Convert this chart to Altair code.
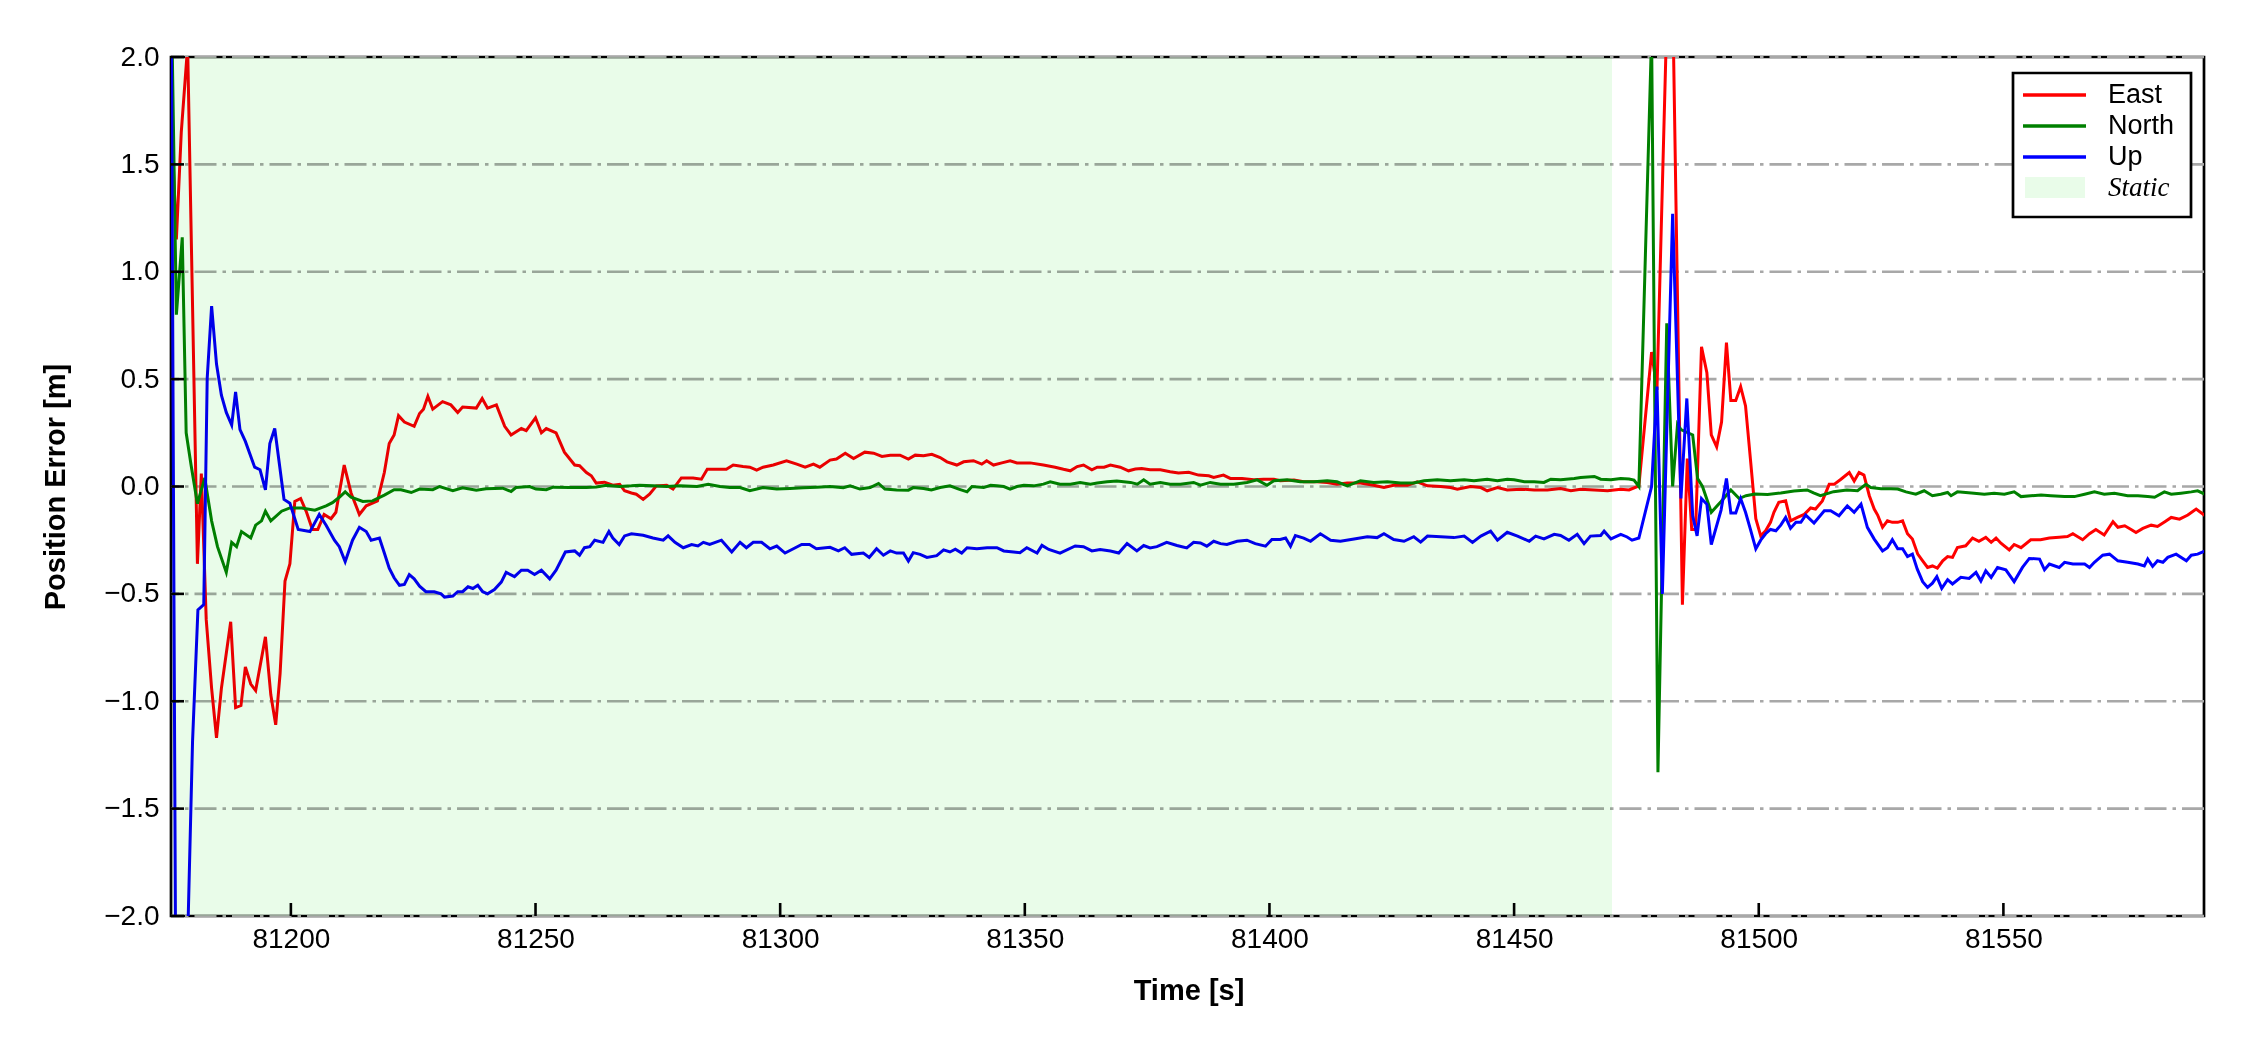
import altair as alt
import pandas as pd

# ---------------- data ----------------
east_t = [81175.6, 81176.6, 81177.6, 81178.9, 81180.9, 81181.7, 81182.7, 81183.8, 81184.8, 81185.8,
          81187.7, 81188.7, 81189.8, 81190.7, 81191.8, 81192.8, 81194.8, 81195.9, 81196.9, 81197.8,
          81198.8, 81199.8, 81200.8, 81202.0, 81203.2, 81204.4, 81205.5, 81206.8, 81208.2, 81209.2,
          81210.9, 81212.3, 81214.0, 81215.4, 81217.7, 81219.1, 81220.1, 81221.1, 81222.0, 81223.2,
          81225.2, 81226.3, 81227.1, 81228.0, 81229.0, 81231.0, 81232.7, 81234.1, 81235.1, 81237.9,
          81239.1, 81240.2, 81242.0, 81243.7, 81245.0, 81247.1, 81248.1, 81250.0, 81251.2, 81252.2,
          81254.2, 81255.9, 81258.0, 81259.0, 81260.4, 81261.4, 81262.4, 81264.1, 81265.8, 81267.2,
          81268.2, 81269.6, 81270.6, 81272.0, 81273.3, 81274.7, 81276.8, 81278.1, 81279.8, 81282.2,
          81283.9, 81285.1, 81287.0, 81289.0, 81290.4, 81292.4, 81293.8, 81295.2, 81296.5, 81298.6,
          81301.3, 81303.4, 81305.1, 81306.8, 81308.1, 81310.2, 81311.5, 81313.3, 81315.0, 81317.3,
          81319.1, 81320.8, 81322.5, 81324.5, 81326.2, 81327.6, 81329.3, 81331.0, 81332.7, 81334.1,
          81336.1, 81337.5, 81339.5, 81341.2, 81342.2, 81343.6, 81345.3, 81347.0, 81348.4, 81351.1,
          81353.8, 81356.2, 81357.9, 81359.3, 81360.7, 81362.0, 81363.7, 81364.8, 81366.2, 81367.5,
          81369.5, 81371.2, 81372.6, 81373.9, 81375.6, 81377.7, 81379.7, 81381.4, 81383.5, 81385.5,
          81387.6, 81388.6, 81390.6, 81392.0, 81394.4, 81396.8, 81398.8, 81400.9, 81402.2, 81405.0,
          81407.0, 81409.7, 81411.8, 81413.8, 81415.9, 81418.6, 81421.3, 81423.4, 81425.4, 81428.2,
          81430.2, 81432.3, 81435.0, 81437.0, 81438.4, 81441.1, 81443.2, 81444.5, 81446.6, 81448.6,
          81451.4, 81454.1, 81456.8, 81459.5, 81461.6, 81463.6, 81466.4, 81469.1, 81471.8, 81473.5,
          81475.5, 81478.1, 81479.2, 81482.0, 81484.4, 81485.4, 81486.3, 81487.1, 81488.3, 81489.4,
          81490.3, 81491.4, 81492.4, 81493.4, 81494.3, 81495.3, 81496.3, 81497.3, 81498.3, 81499.4,
          81500.4, 81501.4, 81502.4, 81503.1, 81504.1, 81505.5, 81506.5, 81507.9, 81509.3, 81510.6,
          81511.6, 81513.0, 81514.4, 81515.4, 81516.8, 81518.5, 81519.5, 81520.5, 81521.5, 81522.6,
          81523.6, 81524.3, 81525.3, 81526.3, 81527.3, 81528.4, 81529.4, 81530.4, 81531.4, 81532.5,
          81533.5, 81534.5, 81535.5, 81536.5, 81537.6, 81538.6, 81539.6, 81540.6, 81542.3, 81543.7,
          81545.0, 81546.4, 81547.5, 81548.5, 81549.5, 81551.2, 81552.2, 81553.6, 81555.6, 81557.6,
          81559.4, 81561.4, 81563.1, 81564.2, 81566.2, 81567.6, 81568.9, 81570.6, 81572.4, 81573.4,
          81574.8, 81576.1, 81577.1, 81578.5, 81580.2, 81581.5, 81583.0, 81584.3, 81586.0, 81587.7,
          81589.4, 81591.2]
east_v = [1.70, 1.15, 1.65, 2.05, -0.36, 0.06, -0.62, -0.94, -1.17, -0.94,
          -0.63, -1.03, -1.02, -0.84, -0.92, -0.95, -0.70, -0.97, -1.11, -0.87,
          -0.44, -0.36, -0.07, -0.056, -0.12, -0.20, -0.20, -0.13, -0.15, -0.12,
          0.10, -0.03, -0.13, -0.09, -0.067, 0.065, 0.20, 0.24, 0.33, 0.30,
          0.28, 0.34, 0.36, 0.42, 0.36, 0.395, 0.38, 0.345, 0.37, 0.365,
          0.41, 0.365, 0.38, 0.28, 0.24, 0.27, 0.26, 0.32, 0.25, 0.27,
          0.25, 0.16, 0.10, 0.097, 0.065, 0.05, 0.016, 0.02, 0.006, 0.01,
          -0.02, -0.03, -0.036, -0.06, -0.036, 0.003, 0.006, -0.012, 0.04, 0.04,
          0.034, 0.08, 0.08, 0.08, 0.10, 0.093, 0.09, 0.076, 0.09, 0.10,
          0.12, 0.104, 0.09, 0.104, 0.09, 0.123, 0.128, 0.155, 0.13, 0.16,
          0.155, 0.14, 0.146, 0.146, 0.128, 0.146, 0.143, 0.15, 0.135, 0.115,
          0.10, 0.115, 0.12, 0.104, 0.12, 0.10, 0.11, 0.12, 0.11, 0.11,
          0.10, 0.09, 0.08, 0.073, 0.093, 0.10, 0.078, 0.09, 0.09, 0.10,
          0.09, 0.073, 0.081, 0.084, 0.078, 0.078, 0.069, 0.0625, 0.066, 0.053,
          0.05, 0.042, 0.053, 0.0375, 0.0375, 0.031, 0.034, 0.034, 0.027, 0.03,
          0.022, 0.022, 0.019, 0.011, 0.016, 0.016, 0.006, -0.005, 0.006, 0.006,
          0.022, 0.003, 0.0, -0.005, -0.0125, 0.0, -0.005, -0.02, -0.005, -0.016,
          -0.0125, -0.016, -0.016, -0.009, -0.02, -0.0125, -0.016, -0.02, -0.0125, -0.016,
          0.003, 0.626, 0.45, 2.86, -0.55, 0.13, -0.20, -0.20, 0.65, 0.53,
          0.24, 0.185, 0.30, 0.67, 0.40, 0.40, 0.465, 0.375, 0.127, -0.15,
          -0.23, -0.206, -0.167, -0.12, -0.074, -0.067, -0.16, -0.144, -0.13, -0.10,
          -0.105, -0.067, 0.01, 0.01, 0.034, 0.065, 0.026, 0.065, 0.053, -0.043,
          -0.105, -0.133, -0.19, -0.16, -0.167, -0.167, -0.16, -0.22, -0.245, -0.315,
          -0.346, -0.377, -0.37, -0.38, -0.346, -0.326, -0.33, -0.284, -0.276, -0.24,
          -0.255, -0.237, -0.26, -0.24, -0.264, -0.295, -0.27, -0.285, -0.248, -0.248,
          -0.24, -0.236, -0.233, -0.22, -0.248, -0.22, -0.20, -0.226, -0.164, -0.19,
          -0.183, -0.20, -0.214, -0.195, -0.18, -0.186, -0.164, -0.144, -0.152, -0.133,
          -0.105, -0.136]

north_t = [81175.5, 81176.6, 81177.8, 81178.6, 81179.6, 81180.9, 81182.4, 81183.8, 81185.0, 81186.8,
           81187.9, 81188.9, 81189.9, 81191.8, 81192.8, 81194.0, 81194.8, 81195.9, 81198.1, 81199.8,
           81202.2, 81204.9, 81207.2, 81208.5, 81209.9, 81211.1, 81212.3, 81214.7, 81216.7, 81219.1,
           81221.1, 81222.5, 81224.6, 81226.3, 81229.0, 81230.4, 81233.1, 81235.1, 81237.9, 81239.9,
           81243.3, 81245.0, 81246.0, 81248.8, 81250.1, 81252.2, 81253.6, 81257.0, 81260.4, 81262.4,
           81264.5, 81267.2, 81269.6, 81271.3, 81274.0, 81276.8, 81279.5, 81283.0, 81285.3, 81287.7,
           81289.7, 81291.8, 81293.8, 81296.5, 81299.3, 81302.0, 81304.7, 81307.5, 81310.2, 81312.9,
           81314.3, 81316.3, 81318.4, 81320.1, 81321.4, 81323.8, 81326.2, 81327.2, 81329.3, 81330.9,
           81332.7, 81334.7, 81336.5, 81338.2, 81339.2, 81341.6, 81343.0, 81344.3, 81345.7, 81347.0,
           81348.4, 81349.8, 81351.8, 81353.8, 81355.2, 81357.2, 81359.3, 81361.3, 81363.4, 81364.8,
           81366.8, 81368.8, 81371.6, 81373.0, 81374.3, 81375.6, 81377.7, 81379.7, 81381.8, 81384.5,
           81385.9, 81387.9, 81390.0, 81392.7, 81395.4, 81397.5, 81399.5, 81400.9, 81403.6, 81406.3,
           81409.1, 81411.8, 81413.8, 81415.9, 81418.6, 81421.3, 81424.1, 81426.8, 81429.5, 81431.6,
           81434.3, 81437.0, 81439.8, 81441.8, 81444.5, 81446.6, 81448.6, 81450.0, 81452.1, 81454.1,
           81456.1, 81457.5, 81459.5, 81462.3, 81463.6, 81466.4, 81467.7, 81469.8, 81471.8, 81473.5,
           81474.5, 81475.5, 81478.1, 81479.4, 81481.2, 81482.4, 81483.4, 81484.1, 81486.5, 81487.5,
           81488.5, 81490.3, 81492.3, 81494.3, 81496.0, 81497.4, 81499.2, 81501.8, 81504.5, 81507.2,
           81509.9, 81511.2, 81512.6, 81515.3, 81518.0, 81520.2, 81521.9, 81522.9, 81525.0, 81527.0,
           81528.4, 81530.1, 81532.1, 81533.8, 81535.5, 81537.2, 81538.6, 81539.3, 81540.6, 81542.3,
           81544.0, 81546.1, 81548.1, 81550.2, 81552.2, 81553.6, 81555.6, 81557.7, 81559.7, 81562.5,
           81564.5, 81566.6, 81568.6, 81570.6, 81572.7, 81575.4, 81577.5, 81579.5, 81580.9, 81582.9,
           81584.3, 81586.3, 81588.4, 81589.7, 81591.2]
north_v = [2.40, 0.80, 1.16, 0.25, 0.10, -0.08, 0.04, -0.16, -0.28, -0.40,
           -0.26, -0.28, -0.21, -0.24, -0.18, -0.16, -0.115, -0.16, -0.115, -0.10,
           -0.10, -0.11, -0.09, -0.075, -0.05, -0.025, -0.05, -0.07, -0.067, -0.04,
           -0.015, -0.015, -0.028, -0.012, -0.015, 0.0, -0.02, -0.006, -0.017, -0.01,
           -0.008, -0.023, -0.005, 0.0, -0.012, -0.015, -0.003, -0.005, -0.005, -0.002,
           0.006, 0.0, 0.003, 0.006, 0.003, 0.0, 0.003, 0.0, 0.01, 0.0,
           -0.005, -0.005, -0.02, -0.005, -0.012, -0.009, -0.006, -0.003, 0.0, -0.006,
           0.003, -0.012, -0.005, 0.014, -0.012, -0.016, -0.017, -0.005, -0.009, -0.016,
           -0.005, 0.003, -0.012, -0.025, 0.0, -0.005, 0.006, 0.003, 0.0, -0.012,
           0.0, 0.006, 0.003, 0.011, 0.022, 0.011, 0.011, 0.019, 0.011, 0.016,
           0.022, 0.026, 0.019, 0.011, 0.031, 0.011, 0.019, 0.011, 0.011, 0.019,
           0.006, 0.019, 0.011, 0.011, 0.019, 0.031, 0.006, 0.027, 0.031, 0.022,
           0.022, 0.027, 0.022, 0.003, 0.027, 0.019, 0.022, 0.016, 0.016, 0.027,
           0.031, 0.027, 0.031, 0.027, 0.034, 0.027, 0.034, 0.031, 0.022, 0.022,
           0.019, 0.034, 0.031, 0.037, 0.042, 0.047, 0.034, 0.031, 0.0375, 0.035,
           0.03, 0.0, 2.10, -1.33, 0.76, 0.0, 0.29, 0.265, 0.24, 0.037,
           0.0, -0.12, -0.07, -0.016, -0.056, -0.043, -0.035, -0.037, -0.03, -0.021,
           -0.016, -0.03, -0.043, -0.024, -0.016, -0.02, 0.01, -0.005, -0.01, -0.01,
           -0.012, -0.025, -0.036, -0.02, -0.043, -0.036, -0.028, -0.043, -0.025, -0.028,
           -0.031, -0.036, -0.031, -0.036, -0.025, -0.047, -0.043, -0.04, -0.043, -0.047,
           -0.047, -0.036, -0.025, -0.036, -0.031, -0.043, -0.043, -0.047, -0.05, -0.025,
           -0.036, -0.031, -0.025, -0.02, -0.036]

up_t = [81175.5, 81176.5, 81177.7, 81178.7, 81179.9, 81181.0, 81182.2, 81182.9, 81183.8, 81184.8,
        81185.8, 81186.8, 81187.9, 81188.7, 81189.6, 81190.7, 81192.6, 81193.7, 81194.8, 81195.7,
        81196.7, 81198.6, 81199.8, 81201.5, 81203.9, 81205.8, 81207.2, 81208.9, 81209.9, 81211.1,
        81212.6, 81214.0, 81215.4, 81216.4, 81218.1, 81219.1, 81220.1, 81221.1, 81222.2, 81223.2,
        81224.2, 81225.2, 81226.3, 81227.6, 81229.3, 81230.7, 81231.4, 81233.1, 81234.1, 81235.1,
        81236.2, 81237.2, 81238.2, 81239.2, 81240.2, 81241.6, 81243.0, 81244.0, 81245.7, 81247.1,
        81248.4, 81249.8, 81251.2, 81252.9, 81254.2, 81256.1, 81258.0, 81259.0, 81260.0, 81261.1,
        81262.1, 81263.8, 81265.0, 81265.8, 81267.1, 81268.2, 81269.6, 81272.0, 81274.0, 81276.1,
        81277.1, 81278.5, 81280.2, 81281.9, 81283.2, 81284.3, 81285.6, 81288.0, 81290.1, 81291.8,
        81293.1, 81294.5, 81296.2, 81297.9, 81299.3, 81301.0, 81302.7, 81304.4, 81306.0, 81307.4,
        81308.8, 81310.2, 81311.9, 81313.2, 81314.6, 81317.0, 81318.2, 81319.7, 81321.1, 81322.5,
        81323.8, 81325.2, 81326.2, 81327.2, 81328.6, 81330.0, 81332.0, 81333.4, 81334.7, 81335.8,
        81337.1, 81338.2, 81340.2, 81342.3, 81344.3, 81345.7, 81347.7, 81349.0, 81350.4, 81352.5,
        81353.5, 81354.9, 81357.2, 81360.3, 81362.0, 81363.7, 81365.4, 81367.5, 81369.2, 81370.9,
        81372.9, 81374.3, 81375.6, 81377.0, 81379.0, 81381.1, 81383.1, 81384.5, 81385.9, 81387.2,
        81388.6, 81390.0, 81391.3, 81393.4, 81395.4, 81397.1, 81399.2, 81400.5, 81402.2, 81403.3,
        81404.3, 81405.3, 81407.0, 81408.4, 81410.4, 81412.5, 81414.5, 81417.3, 81420.0, 81422.0,
        81423.4, 81425.4, 81427.5, 81429.5, 81430.9, 81432.3, 81435.0, 81437.7, 81439.8, 81441.5,
        81443.2, 81445.2, 81446.6, 81448.6, 81450.7, 81453.1, 81454.4, 81456.1, 81458.2, 81459.5,
        81461.2, 81462.9, 81464.3, 81465.6, 81467.7, 81468.4, 81469.8, 81471.8, 81473.1, 81474.1,
        81475.5, 81478.1, 81479.2, 81480.3, 81482.4, 81484.1, 81485.3, 81486.5, 81487.4, 81488.3,
        81489.4, 81490.3, 81492.3, 81493.4, 81494.3, 81495.3, 81496.3, 81497.3, 81498.3, 81499.4,
        81500.4, 81501.4, 81502.4, 81503.5, 81504.5, 81505.5, 81506.5, 81507.6, 81508.6, 81509.6,
        81511.3, 81513.4, 81514.7, 81516.4, 81518.1, 81519.5, 81520.9, 81522.2, 81523.6, 81525.3,
        81526.3, 81527.3, 81528.4, 81529.4, 81530.4, 81531.4, 81532.4, 81533.5, 81534.5, 81535.5,
        81536.4, 81537.4, 81538.6, 81539.6, 81541.3, 81543.0, 81544.4, 81545.4, 81546.4, 81547.5,
        81548.8, 81550.5, 81552.2, 81553.9, 81555.3, 81557.4, 81558.4, 81559.4, 81561.4, 81562.5,
        81564.2, 81566.6, 81567.6, 81568.6, 81570.3, 81571.7, 81573.4, 81575.4, 81577.5, 81578.8,
        81579.5, 81580.5, 81581.5, 81582.6, 81583.6, 81585.3, 81587.4, 81588.4, 81589.7, 81591.2]
up_v = [2.50, -2.50, -2.60, -2.30, -1.19, -0.575, -0.55, 0.505, 0.84, 0.57,
        0.425, 0.345, 0.286, 0.44, 0.265, 0.21, 0.09, 0.078, -0.016, 0.20,
        0.27, -0.06, -0.078, -0.20, -0.21, -0.13, -0.18, -0.25, -0.28, -0.35,
        -0.25, -0.19, -0.21, -0.25, -0.24, -0.31, -0.38, -0.425, -0.46, -0.456,
        -0.41, -0.43, -0.464, -0.49, -0.49, -0.50, -0.515, -0.51, -0.49, -0.49,
        -0.467, -0.475, -0.46, -0.49, -0.50, -0.48, -0.445, -0.40, -0.42, -0.39,
        -0.39, -0.41, -0.39, -0.43, -0.39, -0.305, -0.30, -0.32, -0.285, -0.28,
        -0.25, -0.26, -0.21, -0.24, -0.27, -0.23, -0.22, -0.227, -0.24, -0.25,
        -0.23, -0.26, -0.285, -0.27, -0.277, -0.26, -0.27, -0.25, -0.305, -0.26,
        -0.285, -0.26, -0.26, -0.29, -0.277, -0.31, -0.29, -0.27, -0.27, -0.29,
        -0.286, -0.283, -0.30, -0.285, -0.316, -0.31, -0.33, -0.29, -0.32, -0.30,
        -0.31, -0.31, -0.347, -0.308, -0.316, -0.33, -0.322, -0.295, -0.305, -0.292,
        -0.31, -0.285, -0.29, -0.285, -0.285, -0.30, -0.305, -0.308, -0.285, -0.31,
        -0.274, -0.293, -0.31, -0.277, -0.28, -0.30, -0.293, -0.30, -0.31, -0.266,
        -0.30, -0.275, -0.286, -0.28, -0.26, -0.275, -0.286, -0.26, -0.263, -0.278,
        -0.255, -0.266, -0.27, -0.255, -0.25, -0.266, -0.278, -0.247, -0.247, -0.24,
        -0.278, -0.228, -0.24, -0.255, -0.22, -0.25, -0.255, -0.244, -0.234, -0.238,
        -0.22, -0.247, -0.255, -0.234, -0.259, -0.231, -0.234, -0.238, -0.231, -0.26,
        -0.231, -0.208, -0.25, -0.213, -0.231, -0.255, -0.231, -0.244, -0.223, -0.228,
        -0.25, -0.223, -0.266, -0.231, -0.228, -0.208, -0.244, -0.223, -0.235, -0.25,
        -0.24, 0.0, 0.465, -0.50, 1.27, -0.056, 0.41, -0.136, -0.23, -0.056,
        -0.083, -0.27, -0.11, 0.037, -0.123, -0.123, -0.056, -0.12, -0.20, -0.29,
        -0.25, -0.22, -0.20, -0.206, -0.18, -0.144, -0.195, -0.167, -0.167, -0.133,
        -0.17, -0.113, -0.113, -0.136, -0.09, -0.12, -0.082, -0.19, -0.245, -0.30,
        -0.285, -0.248, -0.29, -0.29, -0.326, -0.315, -0.385, -0.443, -0.47, -0.45,
        -0.42, -0.474, -0.434, -0.454, -0.423, -0.428, -0.40, -0.44, -0.392, -0.423,
        -0.377, -0.388, -0.443, -0.377, -0.335, -0.338, -0.388, -0.361, -0.377, -0.353,
        -0.361, -0.361, -0.377, -0.353, -0.32, -0.315, -0.346, -0.353, -0.361, -0.37,
        -0.338, -0.372, -0.346, -0.353, -0.33, -0.315, -0.346, -0.32, -0.315, -0.30]

series_names = ["East", "North", "Up"]
series_colors = ["#ff0000", "#008000", "#0000ff"]
static_label = "Static"
static_color = "#e9fce9"
static_start = 81175.5
static_end = 81470.0
x_ticks = [81200, 81250, 81300, 81350, 81400, 81450, 81500, 81550]
y_ticks = [-2.0, -1.5, -1.0, -0.5, 0.0, 0.5, 1.0, 1.5, 2.0]
x_domain = [81175.5, 81591.0]
y_domain = [-2.0, 2.0]

# ---------------- build ----------------
rows = []
for name, ts, vs in zip(series_names, (east_t, north_t, up_t), (east_v, north_v, up_v)):
    for i, (t, v) in enumerate(zip(ts, vs)):
        rows.append({"t": t, "v": v, "series": name, "i": i})
df = pd.DataFrame(rows)

W, H = 2033, 859
FONT = "Liberation Sans"
TICK_LEN = 13

xscale = alt.Scale(domain=x_domain, nice=False, zero=False)
yscale = alt.Scale(domain=y_domain, nice=False, zero=False)

xaxis = alt.Axis(values=x_ticks, format="d", labelFont=FONT, labelFontSize=28, labelColor="black",
                 labelPadding=9, ticks=False, tickSize=0, domain=False, grid=False,
                 title="Time [s]", titleFont=FONT, titleFontSize=29, titleFontWeight="bold",
                 titleColor="black", titleX=W / 2 + 1, titleY=74, titleBaseline="middle")
yaxis = alt.Axis(values=y_ticks, labelExpr="replace(format(datum.value, '.1f'), '-', '\u2212')",
                 labelFont=FONT, labelFontSize=28, labelColor="black", labelPadding=12,
                 ticks=False, tickSize=0, domain=False, grid=False,
                 title="Position Error [m]", titleFont=FONT, titleFontSize=29, titleFontWeight="bold",
                 titleColor="black", titleX=-116, titleY=H / 2, titleBaseline="middle", titleAngle=270)

# dash-dot grid
tick_df = pd.DataFrame({"tick": y_ticks})
grid = alt.Chart(tick_df).mark_rule(color="#a8a8a8", strokeWidth=2.6, strokeDash=[22, 6, 3.5, 6]).encode(
    y=alt.Y("tick:Q", scale=yscale, axis=yaxis),
)

# the three error series
lines = alt.Chart(df).mark_line(clip=True, strokeWidth=3).encode(
    x=alt.X("t:Q", scale=xscale, axis=xaxis),
    y=alt.Y("v:Q", scale=yscale, axis=yaxis),
    color=alt.Color("series:N", scale=alt.Scale(domain=series_names, range=series_colors), legend=None),
    detail="series:N",
    order="i:Q",
)

# inward tick marks
xt = alt.Chart(pd.DataFrame({"tick": x_ticks})).mark_rule(color="black", strokeWidth=2.6).encode(
    x=alt.X("tick:Q", scale=xscale, axis=xaxis),
    y=alt.value(H - TICK_LEN), y2=alt.value(H),
)
yt = alt.Chart(tick_df).mark_rule(color="black", strokeWidth=2.6).encode(
    y=alt.Y("tick:Q", scale=yscale, axis=yaxis),
    x=alt.value(0), x2=alt.value(TICK_LEN),
)

# legend (drawn by hand)
one = alt.Data(values=[{}])
LX0, LX1, LY0, LY1 = 1842, 2020, 16, 160
legend_layers = [
    alt.Chart(one).mark_rect(fill="white", stroke="black", strokeWidth=2.7).encode(
        x=alt.value(LX0), x2=alt.value(LX1), y=alt.value(LY0), y2=alt.value(LY1))
]
entry_y = [38, 69, 100, 131]
for name, col, yy in zip(series_names, series_colors, entry_y[:3]):
    legend_layers.append(
        alt.Chart(one).mark_rule(color=col, strokeWidth=3.3).encode(
            x=alt.value(1852), x2=alt.value(1915), y=alt.value(yy)))
    legend_layers.append(
        alt.Chart(one).mark_text(text=name, align="left", baseline="middle", font=FONT,
                                 fontSize=27, color="black").encode(
            x=alt.value(1937), y=alt.value(yy)))
legend_layers.append(
    alt.Chart(one).mark_rect(fill=static_color, fillOpacity=1).encode(
        x=alt.value(1854), x2=alt.value(1914), y=alt.value(120), y2=alt.value(141)))
legend_layers.append(
    alt.Chart(one).mark_text(text=static_label, align="left", baseline="middle", font="Liberation Serif",
                             fontStyle="italic", fontSize=27, color="black").encode(
        x=alt.value(1937), y=alt.value(entry_y[3])))

# static period shading, laid over everything with a multiply blend
# (white becomes light green, the coloured lines stay practically unchanged)
static_df = pd.DataFrame({"start": [static_start], "end": [static_end]})
static = alt.Chart(static_df).mark_rect(fill=static_color, fillOpacity=1, blend="multiply").encode(
    x=alt.X("start:Q", scale=xscale, axis=xaxis),
    x2="end:Q",
    y=alt.value(0), y2=alt.value(H),
)

chart = alt.layer(grid, lines, xt, yt, *legend_layers, static).properties(
    width=W, height=H,
    padding={"left": 163, "top": 49, "right": 30, "bottom": 120},
    autosize=alt.AutoSizeParams(type="none"),
    background="white",
).configure_view(stroke="black", strokeWidth=2.7)

chart.save("out.html", embed_options={"renderer": "svg", "actions": False})
